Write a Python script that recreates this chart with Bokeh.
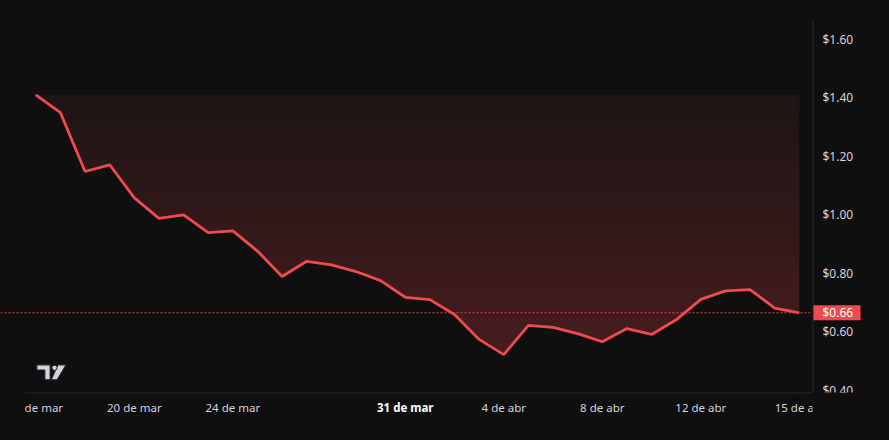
import numpy as np
import pandas as pd
from bokeh.plotting import figure
from bokeh.models import Range1d
from bokeh.core.properties import value
from bokeh.embed import file_html
from bokeh.resources import INLINE

# ---------------- data ----------------
dates = [
    "2025-03-16", "2025-03-17", "2025-03-18", "2025-03-19", "2025-03-20", "2025-03-21",
    "2025-03-22", "2025-03-23", "2025-03-24", "2025-03-25", "2025-03-26", "2025-03-27",
    "2025-03-28", "2025-03-29", "2025-03-30", "2025-03-31", "2025-04-01", "2025-04-02",
    "2025-04-03", "2025-04-04", "2025-04-05", "2025-04-06", "2025-04-07", "2025-04-08",
    "2025-04-09", "2025-04-10", "2025-04-11", "2025-04-12", "2025-04-13", "2025-04-14",
    "2025-04-15", "2025-04-16",
]
prices = [
    1.409, 1.348, 1.147, 1.170, 1.057, 0.987, 0.999, 0.938, 0.944, 0.875, 0.788,
    0.840, 0.828, 0.805, 0.774, 0.717, 0.709, 0.658, 0.573, 0.521, 0.621, 0.614,
    0.593, 0.565, 0.610, 0.590, 0.640, 0.710, 0.739, 0.743, 0.680, 0.664,
]
tick_dates = ["2025-03-16", "2025-03-20", "2025-03-24", "2025-03-31",
              "2025-04-04", "2025-04-08", "2025-04-12", "2025-04-15"]
tick_labels = ["16 de mar", "20 de mar", "24 de mar", "31 de mar",
               "4 de abr", "8 de abr", "12 de abr", "15 de abr"]
tick_bold = [False, False, False, True, False, False, False, False]
y_ticks = [0.4, 0.6, 0.8, 1.0, 1.2, 1.4, 1.6]
y_tick_labels = ["$0.40", "$0.60", "$0.80", "$1.00", "$1.20", "$1.40", "$1.60"]

# ---------------- style / layout ----------------
BG = "#0f0f0f"
RED = "#ef4a4f"
AXIS = "#2a2a2a"
LABEL = "#d1d4dc"
FONT = "Noto Sans"
W, H = 889, 440
PANE_RIGHT_PX = 812
PANE_BOTTOM_PX = 392
DAY = 86400000.0
px_per_day = 24.63
first_px = 35.3
px_per_usd = 292.5
ref_usd, ref_px = 1.0, 214.0

def to_ms(ds):
    return pd.to_datetime(ds).values.astype("datetime64[ms]").astype("int64").astype(float)

x_ms = to_ms(dates)
tick_ms = to_ms(tick_dates)

x0 = x_ms[0] - first_px / px_per_day * DAY
x1 = x0 + W / px_per_day * DAY
y_top = ref_usd + ref_px / px_per_usd
y_bot = y_top - H / px_per_usd

def px2x(px):
    return x0 + px / px_per_day * DAY

def px2y(py):
    return y_top - py / px_per_usd

p = figure(width=W, height=H, x_range=Range1d(x0, x1), y_range=Range1d(y_bot, y_top),
           output_backend="svg", toolbar_location=None,
           x_axis_location=None, y_axis_location=None,
           min_border_left=0, min_border_top=0, min_border_bottom=0, min_border_right=0,
           background_fill_color=BG, border_fill_color=BG, outline_line_color=None)
p.grid.visible = False

pane_r = px2x(PANE_RIGHT_PX)
pane_b = px2y(PANE_BOTTOM_PX)

# gradient fill above the line (image + background cover below the line)
y_lo, y_hi = min(prices), max(prices)
n = 256
t = np.linspace(0.0, 1.0, n)[:, None]
c_bottom = np.array([72, 29, 31], dtype=float)
c_top = np.array([30, 21, 21], dtype=float)
rgb = c_bottom + (c_top - c_bottom) * t
img = np.zeros((n, 1), dtype=np.uint32)
view = img.view(dtype=np.uint8).reshape((n, 1, 4))
view[:, 0, 0] = rgb[:, 0].astype(np.uint8)
view[:, 0, 1] = rgb[:, 1].astype(np.uint8)
view[:, 0, 2] = rgb[:, 2].astype(np.uint8)
view[:, 0, 3] = 255
p.image_rgba(image=[img], x=x_ms[0], y=y_lo, dw=x_ms[-1] - x_ms[0], dh=y_hi - y_lo)
p.varea(x=x_ms, y1=y_bot, y2=prices, fill_color=BG, fill_alpha=1.0)

# last price dotted line
p.segment(x0=[x0], y0=[prices[-1]], x1=[pane_r], y1=[prices[-1]],
          line_color=RED, line_dash="2 2", line_width=1, line_alpha=0.9)

# main line
p.line(x_ms, prices, line_color=RED, line_width=2.8)

# watermark logo
LOGO = "#d1d4dc"
t_shape = [(36.3, 364.3), (49.7, 364.3), (49.7, 379.3), (44.3, 379.3), (44.3, 369.6), (36.3, 369.6)]
s_shape = [(57.3, 364.3), (65.7, 364.3), (56.7, 379.3), (50.7, 379.3)]
p.patches(xs=[[px2x(a) for a, b in t_shape], [px2x(a) for a, b in s_shape]],
          ys=[[px2y(b) for a, b in t_shape], [px2y(b) for a, b in s_shape]],
          fill_color=LOGO, line_color="#1c2029", line_width=1.2)
p.scatter(x=[px2x(54.0)], y=[px2y(367.3)], size=5.2, marker="circle",
          fill_color=LOGO, line_color="#1c2029", line_width=1)

# price scale labels
p.text(x=[px2x(822)] * len(y_ticks), y=y_ticks, text=y_tick_labels,
       text_align="left", text_baseline="middle",
       text_font=value(FONT), text_font_size="12px", text_color=LABEL)

# time scale labels
label_y = px2y(406.5)
for i, (xm, lab, bold) in enumerate(zip(tick_ms, tick_labels, tick_bold)):
    last = i == len(tick_labels) - 1
    p.text(x=[xm], y=[label_y], text=[lab],
           text_align="left" if last else "center", text_baseline="middle",
           text_font=value(FONT), text_font_size="11.5px",
           text_font_style="bold" if bold else "normal",
           text_color="#ffffff" if bold else LABEL)

# covers: left of the time scale and the corner below the price scale
p.quad(left=[x0, pane_r], right=[px2x(24), x1], bottom=[y_bot, y_bot], top=[pane_b, pane_b],
       fill_color=BG, line_color=None)

# scale border lines
p.segment(x0=[px2x(24), px2x(PANE_RIGHT_PX + 0.5)],
          y0=[px2y(PANE_BOTTOM_PX + 0.5), px2y(20)],
          x1=[pane_r, px2x(PANE_RIGHT_PX + 0.5)],
          y1=[px2y(PANE_BOTTOM_PX + 0.5), px2y(PANE_BOTTOM_PX)],
          line_color=AXIS, line_width=1)

# last price tag on the price scale
tag_half = 7.5 / px_per_usd
p.quad(left=[px2x(PANE_RIGHT_PX + 1)], right=[px2x(860)],
       bottom=[prices[-1] - tag_half], top=[prices[-1] + tag_half],
       fill_color=RED, line_color=None)
p.text(x=[px2x(822)], y=[prices[-1]], text=[f"${prices[-1]:.2f}"],
       text_align="left", text_baseline="middle",
       text_font=value(FONT), text_font_size="12px", text_color="#ffffff")

html = file_html(p, INLINE, title="chart")
html = html.replace("</head>", "<style>html,body{margin:0;padding:0;background:#0f0f0f;}</style></head>", 1)
open("out.html", "w").write(html)
